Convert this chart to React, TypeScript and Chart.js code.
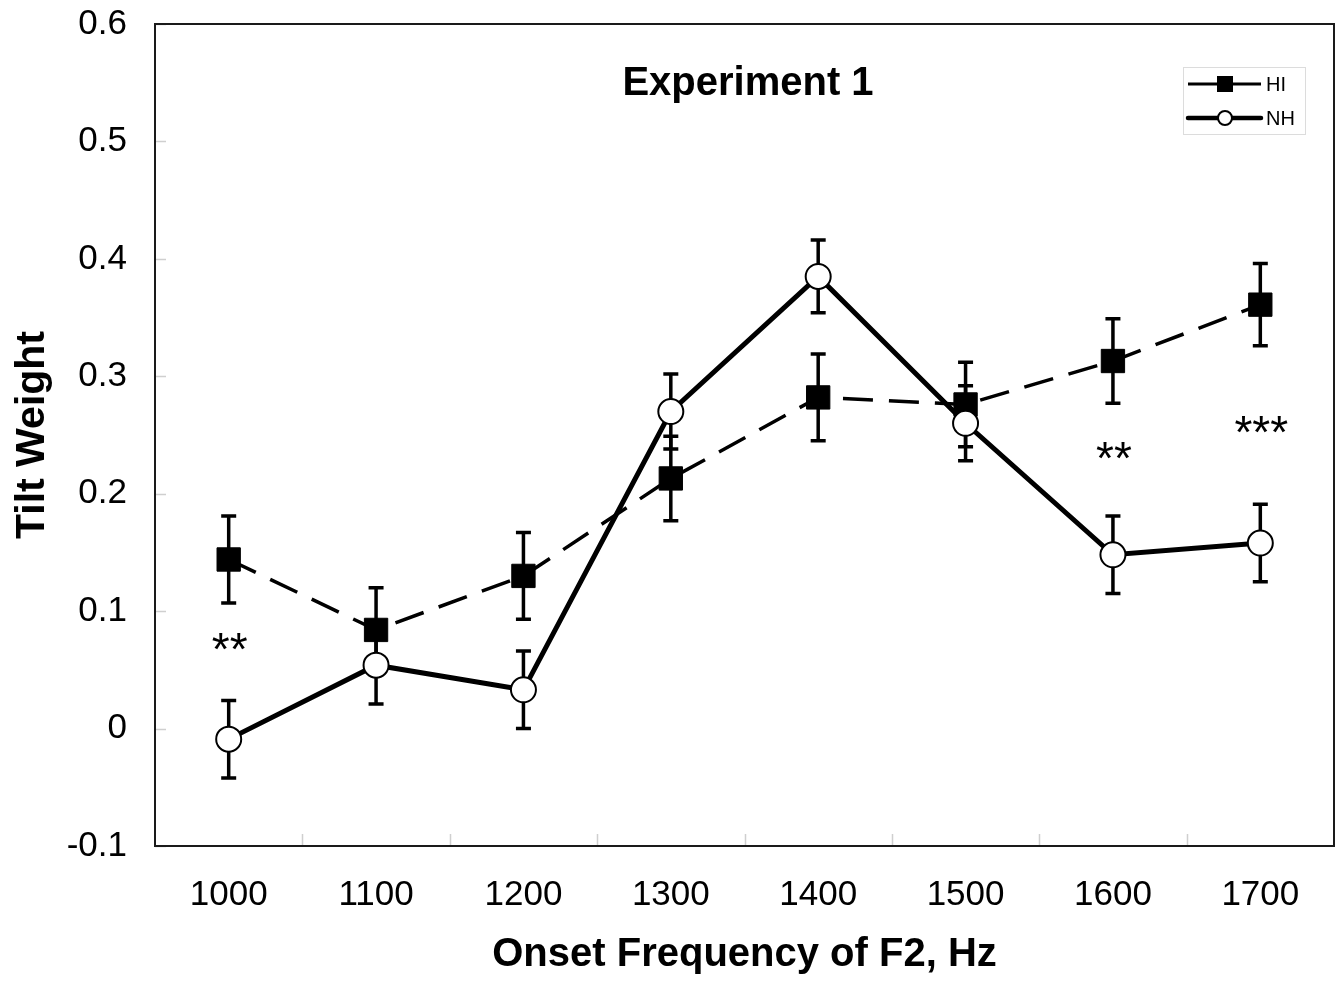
import React, { useEffect, useRef } from 'react';
import { Chart, registerables } from 'chart.js';

Chart.register(...registerables);

// Onset frequency of F2 (Hz)
const categories = ['1000', '1100', '1200', '1300', '1400', '1500', '1600', '1700'];

// Hearing-impaired listeners: mean tilt weight and error
const hiValues = [0.144, 0.084, 0.130, 0.213, 0.282, 0.276, 0.313, 0.361];
const hiErrors = [0.037, 0.036, 0.037, 0.036, 0.037, 0.036, 0.036, 0.035];

// Normal-hearing listeners: mean tilt weight and error
const nhValues = [-0.009, 0.054, 0.033, 0.270, 0.385, 0.260, 0.148, 0.158];
const nhErrors = [0.033, 0.033, 0.033, 0.032, 0.031, 0.032, 0.033, 0.033];

// Significance markers and the level they sit at
const sigLabels = ['**', '', '', '', '', '', '**', '***'];
const sigLevels = [0.072, 0, 0, 0, 0, 0, 0.235, 0.257];

const yMin = -0.1;
const yMax = 0.6;
const yStep = 0.1;

const FONT = '"Liberation Sans", Arial, Helvetica, sans-serif';

const errorBarPlugin = {
  id: 'errorBars',
  beforeDatasetsDraw(chart: any) {
    const { ctx, scales } = chart;
    const x = scales.x;
    const y = scales.y;
    ctx.save();
    ctx.strokeStyle = '#000';
    ctx.lineWidth = 3.5;
    ctx.lineCap = 'butt';
    const groups: [number[], number[]][] = [
      [hiValues, hiErrors],
      [nhValues, nhErrors],
    ];
    groups.forEach(([vals, errs]) => {
      vals.forEach((v, i) => {
        const px = x.getPixelForValue(i);
        const top = y.getPixelForValue(v + errs[i]);
        const bot = y.getPixelForValue(v - errs[i]);
        ctx.beginPath();
        ctx.moveTo(px, top);
        ctx.lineTo(px, bot);
        ctx.moveTo(px - 7.5, top);
        ctx.lineTo(px + 7.5, top);
        ctx.moveTo(px - 7.5, bot);
        ctx.lineTo(px + 7.5, bot);
        ctx.stroke();
      });
    });
    ctx.restore();
  },
};

const framePlugin = {
  id: 'frame',
  beforeDatasetsDraw(chart: any) {
    const { ctx, chartArea, scales } = chart;
    const { left, right, top, bottom } = chartArea;
    ctx.save();
    // short inward tick marks
    ctx.strokeStyle = '#cfcfcf';
    ctx.lineWidth = 1.5;
    ctx.beginPath();
    scales.y.ticks.forEach((t: any) => {
      const py = Math.round(scales.y.getPixelForValue(t.value)) + 0.5;
      ctx.moveTo(left, py);
      ctx.lineTo(left + 11, py);
    });
    for (let i = 0; i < categories.length - 1; i++) {
      const px = Math.round((scales.x.getPixelForValue(i) + scales.x.getPixelForValue(i + 1)) / 2) + 0.5;
      ctx.moveTo(px, bottom);
      ctx.lineTo(px, bottom - 12);
    }
    ctx.stroke();
    // plot frame
    ctx.strokeStyle = '#1a1a1a';
    ctx.lineWidth = 2;
    ctx.strokeRect(left, top, right - left, bottom - top);
    ctx.restore();
  },
};

const annotationPlugin = {
  id: 'annotations',
  afterDatasetsDraw(chart: any) {
    const { ctx, chartArea, scales } = chart;
    ctx.save();
    ctx.fillStyle = '#000';

    // heading inside the plot
    ctx.font = `bold 40px ${FONT}`;
    ctx.textAlign = 'center';
    ctx.textBaseline = 'middle';
    ctx.fillText('Experiment 1', 748, 84);

    // significance stars, centred on their level
    const starSize = 46;
    ctx.font = `${starSize}px ${FONT}`;
    ctx.textBaseline = 'alphabetic';
    sigLabels.forEach((s, i) => {
      if (!s) return;
      const px = scales.x.getPixelForValue(i);
      const py = scales.y.getPixelForValue(sigLevels[i]);
      ctx.fillText(s, px + 1, py + starSize * 0.46);
    });

    // legend
    const bx = chartArea.right - 151;
    const by = chartArea.top + 43;
    ctx.strokeStyle = '#dcdcdc';
    ctx.lineWidth = 1;
    ctx.strokeRect(bx + 0.5, by + 0.5, 122, 67);

    const lx0 = bx + 5;
    const lx1 = bx + 78;
    const mx = bx + 42;
    const row1 = by + 17;
    const row2 = by + 51;

    ctx.strokeStyle = '#000';
    ctx.lineWidth = 3;
    ctx.beginPath();
    ctx.moveTo(lx0, row1);
    ctx.lineTo(lx1, row1);
    ctx.stroke();
    ctx.fillRect(mx - 8, row1 - 8, 16, 16);

    ctx.lineWidth = 4.5;
    ctx.lineCap = 'round';
    ctx.beginPath();
    ctx.moveTo(lx0, row2);
    ctx.lineTo(lx1, row2);
    ctx.stroke();
    ctx.beginPath();
    ctx.arc(mx, row2, 7, 0, Math.PI * 2);
    ctx.fillStyle = '#fff';
    ctx.fill();
    ctx.lineWidth = 2;
    ctx.stroke();

    ctx.fillStyle = '#000';
    ctx.font = `20px ${FONT}`;
    ctx.textAlign = 'left';
    ctx.textBaseline = 'middle';
    ctx.fillText('HI', lx1 + 5, row1 + 1);
    ctx.fillText('NH', lx1 + 5, row2 + 1);

    ctx.restore();
  },
};

export default function App() {
  const canvasRef = useRef<HTMLCanvasElement | null>(null);

  useEffect(() => {
    if (!canvasRef.current) return;
    const chart = new Chart(canvasRef.current, {
      type: 'line',
      data: {
        labels: categories,
        datasets: [
          {
            label: 'HI',
            data: hiValues,
            order: 2,
            borderColor: '#000',
            borderWidth: 3.5,
            borderDash: [30, 16],
            pointStyle: 'rect',
            pointRadius: 16.5,
            pointBackgroundColor: '#000',
            pointBorderColor: '#000',
            pointBorderWidth: 1,
            tension: 0,
            fill: false,
          },
          {
            label: 'NH',
            data: nhValues,
            order: 1,
            borderColor: '#000',
            borderWidth: 5,
            pointStyle: 'circle',
            pointRadius: 12.5,
            pointBackgroundColor: '#fff',
            pointBorderColor: '#000',
            pointBorderWidth: 2,
            tension: 0,
            fill: false,
          },
        ],
      },
      options: {
        responsive: false,
        animation: false,
        layout: { autoPadding: false, padding: { top: 24, right: 8, bottom: 0, left: 0 } },
        plugins: {
          legend: { display: false },
          tooltip: { enabled: false },
          title: { display: false },
        },
        scales: {
          x: {
            type: 'category',
            offset: true,
            grid: { display: false, drawTicks: false },
            border: { display: false },
            ticks: {
              color: '#000',
              padding: 28,
              maxRotation: 0,
              font: { family: FONT, size: 35 },
            },
            title: {
              display: true,
              text: 'Onset Frequency of F2, Hz',
              color: '#000',
              font: { family: FONT, size: 40, weight: 'bold' },
              padding: { top: 0, bottom: 5 },
            },
            afterFit(scale: any) {
              scale.height = 138;
              scale.paddingLeft = 0;
              scale.paddingRight = 0;
            },
          },
          y: {
            min: yMin,
            max: yMax,
            grid: { display: false, drawTicks: false },
            border: { display: false },
            ticks: {
              stepSize: yStep,
              color: '#000',
              padding: 28,
              font: { family: FONT, size: 35 },
              callback: (v: any) => {
                const r = Math.round(Number(v) * 10) / 10;
                return String(r === 0 ? 0 : r);
              },
            },
            title: {
              display: true,
              text: 'Tilt Weight',
              color: '#000',
              font: { family: FONT, size: 41, weight: 'bold' },
              padding: { top: 8, bottom: 0 },
            },
            afterFit(scale: any) {
              scale.width = 155;
              scale.paddingTop = 0;
              scale.paddingBottom = 0;
            },
          },
        },
      },
      plugins: [framePlugin, errorBarPlugin, annotationPlugin],
    });
    return () => chart.destroy();
  }, []);

  return (
    <div style={{ position: 'absolute', left: 0, top: 0, width: 1342, height: 984, background: '#fff' }}>
      <canvas ref={canvasRef} width={1342} height={984} style={{ display: 'block' }} />
    </div>
  );
}
